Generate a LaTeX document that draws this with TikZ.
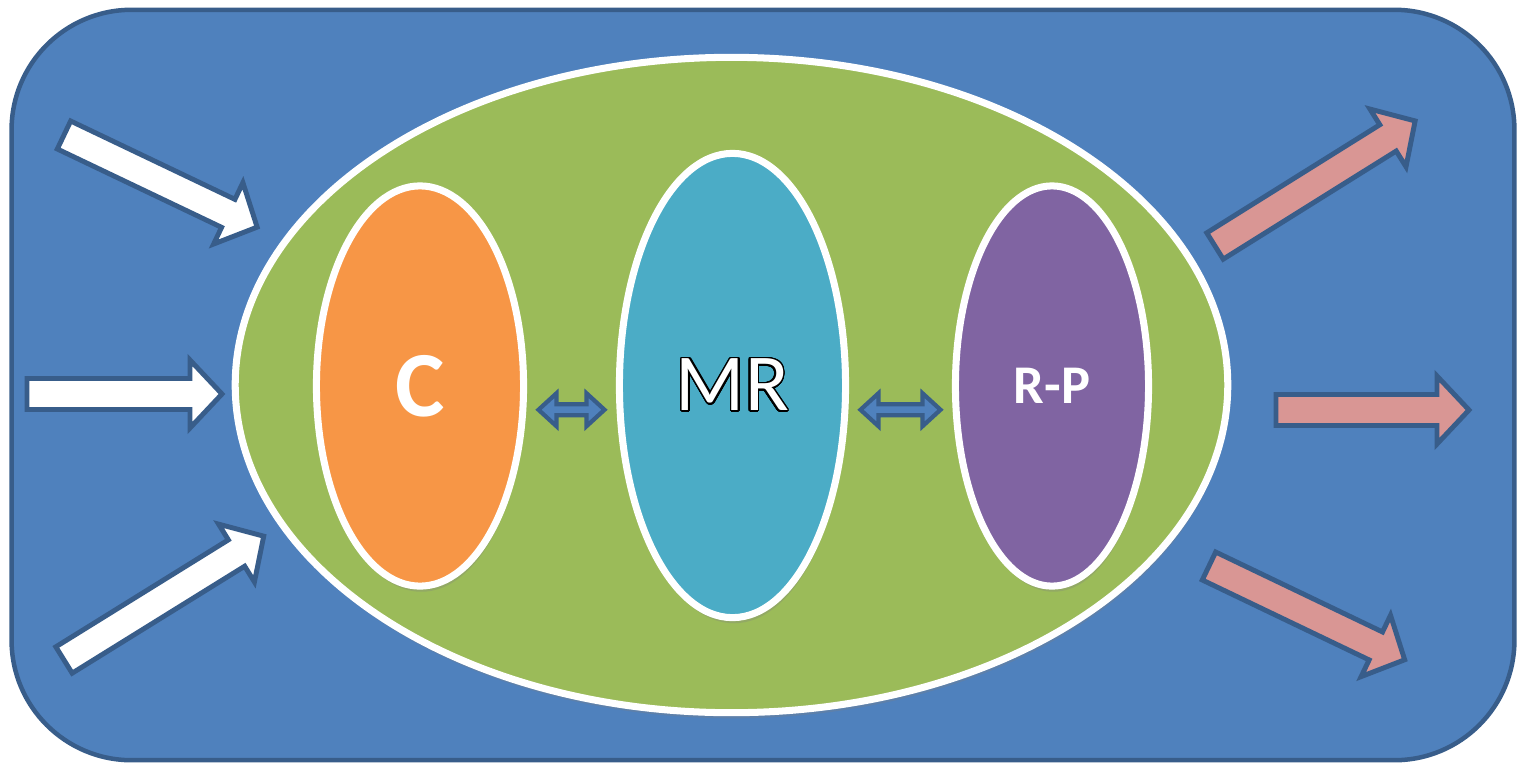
\documentclass[tikz,border=0pt]{standalone}
\usepackage{fontspec}
\setmainfont{Carlito}
\usepackage{contour}
\usetikzlibrary{shapes.geometric,shadows,calc}
\definecolor{bgblue}{HTML}{4F81BD}
\definecolor{darkblue}{HTML}{385D8A}
\definecolor{ellgreen}{HTML}{9BBB59}
\definecolor{ellorange}{HTML}{F79646}
\definecolor{ellaqua}{HTML}{4BACC6}
\definecolor{ellpurple}{HTML}{8064A2}
\definecolor{outpink}{HTML}{D99694}
\contourlength{0.4pt}
\contournumber{32}
\tikzset{
  frame/.style={draw=darkblue, fill=bgblue, line width=1.28pt, rounded corners=1.2cm, inner sep=0pt},
  inarrow/.style={draw=darkblue, fill=white, line width=1.4pt, line join=miter},
  outarrow/.style={draw=darkblue, fill=outpink, line width=1.4pt, line join=miter},
  dblarrowstyle/.style={draw=darkblue, fill=bgblue, line width=1.2pt, line join=miter},
  bigell/.style={ellipse, draw=white, fill=ellgreen, line width=2pt, inner sep=0pt,
    drop shadow={opacity=0.3, shadow xshift=0.4pt, shadow yshift=-1.6pt}},
  smallell/.style={ellipse, draw=white, line width=2pt, inner sep=0pt, text=white,
    drop shadow={opacity=0.3, shadow xshift=0.4pt, shadow yshift=-1.6pt}},
}
\newcommand\blockarrow[4]{%
  \begin{scope}[shift={#1},rotate=#2]
    \draw[#4] (0,-15.5) -- ({#3-32},-15.5) -- ({#3-32},-34) -- (#3,0) -- ({#3-32},34) -- ({#3-32},15.5) -- (0,15.5) -- cycle;
  \end{scope}}
\newcommand\dblarrow[2]{%
  \begin{scope}[shift={#1}]
    \draw[dblarrowstyle] (-#2,0) -- ({-#2+18},-16.5) -- ({-#2+18},-5.5) -- ({#2-18},-5.5) -- ({#2-18},-16.5) -- (#2,0) -- ({#2-18},16.5) -- ({#2-18},5.5) -- ({-#2+18},5.5) -- ({-#2+18},16.5) -- cycle;
  \end{scope}}
\begin{document}
\begin{tikzpicture}[x=0.01cm, y=-0.01cm]
\useasboundingbox (0,0) rectangle (1517,763);
\node[frame, minimum width=15.02cm, minimum height=7.5cm] (bg) at (763,385) {};
% incoming arrows
\blockarrow{(64,135)}{-25.5}{214}{inarrow}
\blockarrow{(27,394)}{0}{195}{inarrow}
\blockarrow{(64,660)}{31.8}{235}{inarrow}
% outgoing arrows
\blockarrow{(1215,246)}{32}{236}{outarrow}
\blockarrow{(1276,410)}{0}{193}{outarrow}
\blockarrow{(1209,566)}{-25.6}{217}{outarrow}
% ellipses
\node[bigell, minimum width=9.92cm, minimum height=6.55cm] (cell) at (731.5,385) {};
\node[smallell, fill=ellorange, minimum width=2.07cm, minimum height=4.0cm] (C) at (420,386)
  {\fontsize{26.5}{31}\selectfont\bfseries C};
\node[smallell, fill=ellaqua, minimum width=2.26cm, minimum height=4.64cm] (MR) at (732.5,385.5)
  {\fontsize{23}{28}\selectfont\contour{black}{MR}};
\node[smallell, fill=ellpurple, minimum width=1.93cm, minimum height=4.0cm] (RP) at (1052,386)
  {\fontsize{15.5}{18}\selectfont\bfseries R-P};
% double arrows
\dblarrow{($(C.east)!0.5!(MR.west)+(0,24)$)}{33}
\dblarrow{($(MR.east)!0.5!(RP.west)+(0,24)$)}{40}
\end{tikzpicture}
\end{document}
